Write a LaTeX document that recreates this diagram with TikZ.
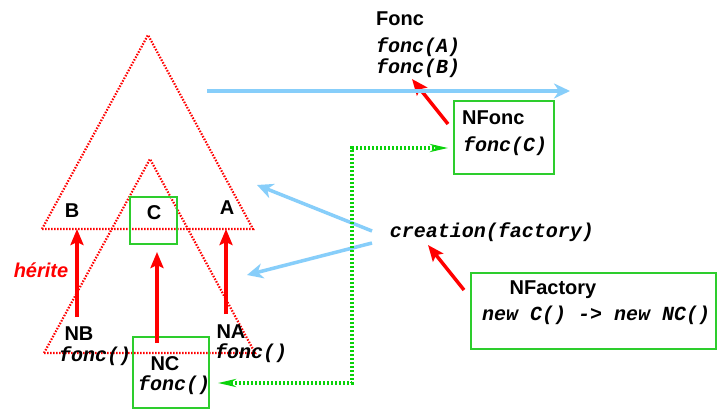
\documentclass[tikz,border=0pt]{standalone}
\usepackage{fontspec}
\setmainfont{Liberation Sans}
\setmonofont{Liberation Mono}
\usetikzlibrary{arrows.meta,calc}
\definecolor{redc}{RGB}{255,0,0}
\definecolor{greenc}{RGB}{45,205,45}
\definecolor{greendot}{RGB}{10,210,10}
\definecolor{bluec}{RGB}{135,206,250}
\begin{document}
\begin{tikzpicture}[x=1pt,y=-1pt,
  lbl/.style={font=\fontsize{20}{22}\selectfont\bfseries, inner sep=0pt},
  redlbl/.style={font=\fontsize{20}{22}\selectfont\bfseries\itshape, text=redc, inner sep=0pt},
  code/.style={font=\fontsize{20}{22}\selectfont\ttfamily\bfseries\itshape, inner sep=0pt},
  tri/.style={draw=redc, line width=2.2pt, dash pattern=on 1.5pt off 1.5pt},
  gbox/.style={draw=greenc, line width=1.5pt, inner sep=0pt},
  inh/.style={draw=redc, line width=3.5pt, -{Stealth[length=16pt,width=13pt,inset=3pt]}},
  use/.style={draw=bluec, line width=3.5pt, -{Stealth[length=16pt,width=15pt,inset=5pt]}},
  gen/.style={draw=greendot, line width=3.2pt, dash pattern=on 2.2pt off 1.8pt,
    {Stealth[length=18pt,width=8pt]}-{Stealth[length=18pt,width=8pt]}},
]
\fill[white] (0,0) rectangle (717,409);
\useasboundingbox (0,0) rectangle (717,409);

% inheritance triangles
\draw[tri] (42,229) -- (148,35) -- (253,229) -- cycle;
\draw[tri] (44,353) -- (150,159) -- (255,353) -- cycle;

% base classes
\node[gbox, minimum width=47pt, minimum height=47pt] (cbox) at (153.5,220.5) {};
\node[lbl] (c) at (154,213) {C};
\node[lbl] (b) at (72,211) {B};
\node[lbl] (a) at (227,208) {A};

% derived classes
\node[lbl] (nb) at (79,334) {NB};
\node[code, anchor=west] (nbf) at (59,356) {fonc()};
\node[lbl] (na) at (231,332) {NA};
\node[code, anchor=west] (naf) at (215,353) {fonc()};
\node[gbox, minimum width=76pt, minimum height=71pt] (ncbox) at (171,372.5) {};
\node[lbl] (nc) at (165,364) {NC};
\node[code, anchor=west] (ncf) at (138,385) {fonc()};
\node[redlbl] (herite) at (41,270) {hérite};

% inheritance arrows
\coordinate (nbtail) at (77,317);  \coordinate (btip) at (77,229);
\coordinate (natail) at (226,314); \coordinate (atip) at (226,229);
\coordinate (nctail) at (157,343); \coordinate (ctip) at (157,252);
\draw[inh] (nbtail) -- (btip);
\draw[inh] (natail) -- (atip);
\draw[inh] (nctail) -- (ctip);

% function object
\node[lbl, anchor=west] (fonc) at (376,19) {Fonc};
\node[code, anchor=west] (fa) at (376,47) {fonc(A)};
\node[code, anchor=west] (fb) at (376,68) {fonc(B)};
\node[gbox, minimum width=100pt, minimum height=73pt] (nfbox) at (504,137.5) {};
\node[lbl, anchor=west] (nfonc) at (462,118) {NFonc};
\node[code, anchor=west] (nff) at (463,146) {fonc(C)};
\coordinate (nftail) at (448,124); \coordinate (fbtip) at (412,79);
\draw[inh] (nftail) -- (fbtip);

% application over the hierarchy
\coordinate (hstart) at (207,91); \coordinate (hend) at (570,91);
\draw[use] (hstart) -- (hend);

% factory
\node[code] (creation) at (492,232) {creation(factory)};
\coordinate (cr1) at (372,231); \coordinate (t1) at (257,185);
\coordinate (cr2) at (372,243); \coordinate (t2) at (247,275);
\draw[use] (cr1) -- (t1);
\draw[use] (cr2) -- (t2);
\node[gbox, minimum width=245pt, minimum height=76pt] (nfactbox) at (593.5,311) {};
\node[lbl] (nfactory) at (553,290) {NFactory};
\node[code, anchor=west] (newnc) at (482,315) {new C() -> new NC()};
\coordinate (facttail) at (464,290); \coordinate (crtip) at (428,245);
\draw[inh] (facttail) -- (crtip);

% creation links
\coordinate (gtop) at (448,148); \coordinate (gc1) at (352,148);
\coordinate (gc2) at (352,383); \coordinate (gbot) at (218,383);
\draw[gen] (gtop) -- (gc1) -- (gc2) -- (gbot);
\end{tikzpicture}
\end{document}
